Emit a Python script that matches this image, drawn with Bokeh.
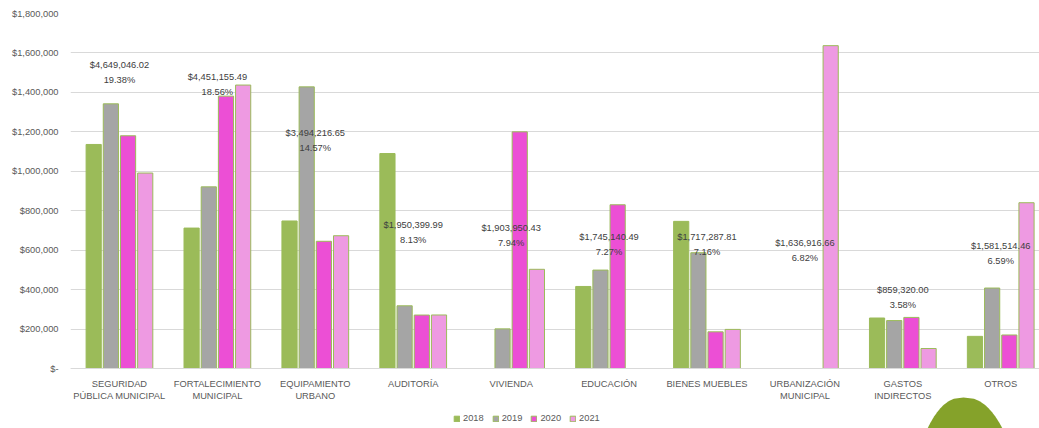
import numpy as np
from bokeh.plotting import figure
from bokeh.models import (ColumnDataSource, Range1d, FixedTicker, NumeralTickFormatter,
                          Legend, LegendItem, PolyAnnotation)
from bokeh.core.properties import value
from bokeh.embed import file_html
from bokeh.resources import INLINE

# ---------------- data ----------------
categories = ["SEGURIDAD\nPÚBLICA MUNICIPAL", "FORTALECIMIENTO\nMUNICIPAL", "EQUIPAMIENTO\nURBANO",
              "AUDITORÍA", "VIVIENDA", "EDUCACIÓN", "BIENES MUEBLES",
              "URBANIZACIÓN\nMUNICIPAL", "GASTOS\nINDIRECTOS", "OTROS"]
years = ["2018", "2019", "2020", "2021"]
v2018 = [1136000, 712000, 748000, 1090000, 0, 416000, 746000, 0, 256000, 163000]
v2019 = [1342000, 921000, 1428000, 318000, 201000, 499000, 587000, 0, 243000, 408000]
v2020 = [1180000, 1381000, 645000, 271000, 1200000, 830140, 186000, 0, 259000, 170000]
v2021 = [991046, 1437155, 673217, 271400, 502950, 0, 198288, 1636917, 101320, 840514]
totals = ["$4,649,046.02", "$4,451,155.49", "$3,494,216.65", "$1,950,399.99", "$1,903,950.43",
          "$1,745,140.49", "$1,717,287.81", "$1,636,916.66", "$859,320.00", "$1,581,514.46"]
percents = ["19.38%", "18.56%", "14.57%", "8.13%", "7.94%", "7.27%", "7.16%", "6.82%", "3.58%", "6.59%"]
# vertical anchor of each total label (data units)
label_y = [1500800, 1440000, 1156000, 690600, 676900, 629700, 628700, 596800, 361000, 583100]
y_ticks = [0, 200000, 400000, 600000, 800000, 1000000, 1200000, 1400000, 1600000, 1800000]

series = [v2018, v2019, v2020, v2021]
colors = ["#9BBB59", "#A5A5A5", "#EC4FD5", "#EE9AE2"]

FONT = "Liberation Sans"
FS = "9.3px"

# layout geometry (pixels)
W, H = 1039, 428
LEFT, TOP = 70, 13
ZERO_PX = 368           # pixel row of the value 0
CAT_PX = 97.92          # width of one category
ymax = 1800000
ymin = -ymax * (H - ZERO_PX) / (ZERO_PX - TOP)
xmax = (W - LEFT) / CAT_PX

p = figure(width=W, height=H, output_backend="svg", toolbar_location=None,
           x_range=Range1d(0, xmax), y_range=Range1d(ymin, ymax),
           min_border_left=LEFT, min_border_right=0, min_border_top=TOP, min_border_bottom=0)
p.outline_line_color = None
p.background_fill_color = "white"
p.border_fill_color = "white"

step = 0.1755
bw = 0.155
renderers = []
for k, (vals, col) in enumerate(zip(series, colors)):
    xs = [i + 0.5 + (k - 1.5) * step for i, v in enumerate(vals) if v > 0]
    ys = [v for v in vals if v > 0]
    src = ColumnDataSource(dict(x=xs, top=ys))
    r = p.vbar(x="x", top="top", width=bw, bottom=0, source=src,
               fill_color=col, line_color="#9BBB59", line_width=1)
    renderers.append(r)

# total labels
lab_src = ColumnDataSource(dict(
    x=[i + 0.5 for i in range(len(categories))],
    y=label_y,
    t=[f"{a}\n{b}" for a, b in zip(totals, percents)]))
p.text(x="x", y="y", text="t", source=lab_src, text_align="center", text_baseline="middle",
       text_font=value(FONT), text_font_size=FS, text_color="#404040", text_line_height=1.5)

# axes
p.xaxis.fixed_location = 0
p.xaxis.ticker = FixedTicker(ticks=[i + 0.5 for i in range(len(categories))])
p.xaxis.major_label_overrides = {i + 0.5: c for i, c in enumerate(categories)}
p.xaxis.major_tick_line_color = None
p.xaxis.minor_tick_line_color = None
p.xaxis.axis_line_color = "#D9D9D9"
p.xaxis.major_label_text_font = FONT
p.xaxis.major_label_text_font_size = FS
p.xaxis.major_label_text_color = "#595959"
p.xaxis.major_label_standoff = 4

p.yaxis.ticker = FixedTicker(ticks=y_ticks)
p.yaxis.formatter = NumeralTickFormatter(format="$0,0")
p.yaxis.major_label_overrides = {0: "$-"}
p.yaxis.axis_line_color = None
p.yaxis.major_tick_line_color = None
p.yaxis.minor_tick_line_color = None
p.yaxis.major_label_text_font = FONT
p.yaxis.major_label_text_font_size = FS
p.yaxis.major_label_text_color = "#595959"
p.yaxis.major_label_standoff = 6

p.xgrid.grid_line_color = None
p.ygrid.grid_line_color = "#D9D9D9"
p.ygrid.grid_line_width = 1

# legend
legend = Legend(items=[LegendItem(label=y, renderers=[r]) for y, r in zip(years, renderers)],
                orientation="horizontal", location=(383, 5),
                glyph_width=7, glyph_height=7, label_standoff=3, spacing=8,
                padding=0, margin=0, border_line_color=None, background_fill_alpha=0,
                label_text_font=FONT, label_text_font_size=FS, label_text_color="#595959",
                label_height=10)
p.add_layout(legend)

# decorative green blob (bottom right)
d = np.linspace(0, 31, 24)
xl = 963 - 36 * (d / 31) ** 0.42
xr = 963 + 39 * (d / 31) ** 0.42
yy = 397 + d
bx = list(xl[::-1]) + list(xr)
by = list(yy[::-1]) + list(yy)
blob = PolyAnnotation(xs=bx, ys=by, xs_units="canvas", ys_units="canvas",
                      fill_color="#85A22A", fill_alpha=1, line_color=None, level="overlay")
p.add_layout(blob)

open("out.html", "w").write(file_html(p, INLINE))
